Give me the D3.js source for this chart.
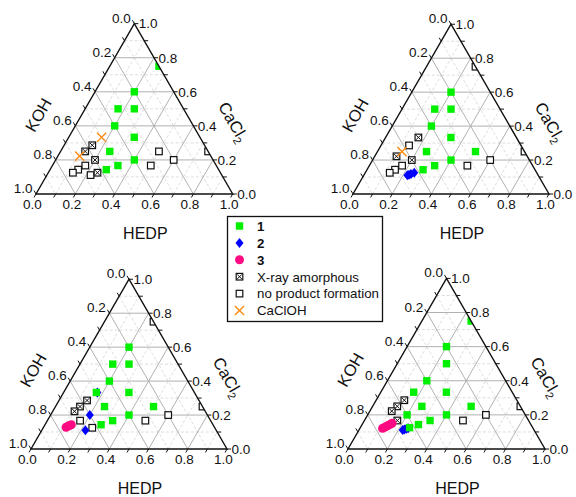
<!DOCTYPE html>
<html><head><meta charset="utf-8">
<script src="https://cdn.jsdelivr.net/npm/d3@7"></script>
<style>body{margin:0;background:#fff}svg{display:block}text{font-family:"Liberation Sans",Arial,sans-serif;fill:#111}</style>
</head><body>
<svg id="c" width="576" height="497"></svg>
<script>
// Each point: [HEDP, KOH, CaCl2] fractions
const axisTicks = [0, 0.2, 0.4, 0.6, 0.8, 1.0];
const tickLabels = ["0.0", "0.2", "0.4", "0.6", "0.8", "1.0"];
const legendLabels = ["1", "2", "3", "X-ray amorphous", "no product formation", "CaClOH"];

// Panel top-left
const tlGreen = [[0.25,0,0.75],[0.2,0.2,0.6],[0.167,0.333,0.5],[0.25,0.25,0.5],[0.2,0.4,0.4],[0.333,0.333,0.333],[0.25,0.5,0.25],[0.4,0.4,0.2],[0.333,0.5,0.167],[0.286,0.571,0.143]];
const tlBlue = [];
const tlPink = [];
const tlXray = [[0.143,0.571,0.286],[0.125,0.625,0.25],[0.2,0.6,0.2],[0.25,0.625,0.125]];
const tlOpen = [[0.5,0.25,0.25],[0.6,0.2,0.2],[0.5,0.333,0.167],[0.75,0,0.25],[0.167,0.667,0.167],[0.143,0.714,0.143],[0.125,0.75,0.125],[0.222,0.667,0.111]];
const tlCaclo = [[0.167,0.5,0.333],[0.111,0.667,0.222]];

// Panel top-right
const trGreen = [[0.2,0.2,0.6],[0.167,0.333,0.5],[0.25,0.25,0.5],[0.2,0.4,0.4],[0.333,0.333,0.333],[0.25,0.5,0.25],[0.5,0.25,0.25],[0.4,0.4,0.2],[0.333,0.5,0.167],[0.286,0.571,0.143]];
const trBlue = [[0.222,0.667,0.111],[0.229,0.657,0.114],[0.237,0.645,0.118],[0.25,0.625,0.125]];
const trPink = [];
const trXray = [[0.167,0.5,0.333],[0.111,0.667,0.222],[0.2,0.6,0.2]];
const trOpen = [[0.25,0,0.75],[0.75,0,0.25],[0.6,0.2,0.2],[0.5,0.333,0.167],[0.143,0.571,0.286],[0.167,0.667,0.167],[0.143,0.714,0.143],[0.125,0.75,0.125]];
const trCaclo = [[0.125,0.625,0.25]];

// Panel bottom-left
const blGreen = [[0.2,0.2,0.6],[0.167,0.333,0.5],[0.25,0.25,0.5],[0.2,0.4,0.4],[0.167,0.5,0.333],[0.333,0.333,0.333],[0.25,0.5,0.25],[0.5,0.25,0.25],[0.4,0.4,0.2],[0.333,0.5,0.167],[0.286,0.571,0.143]];
const blBlue = [[0.172,0.495,0.333],[0.2,0.6,0.2],[0.222,0.667,0.111]];
const blPink = [[0.115,0.757,0.128],[0.121,0.746,0.133],[0.127,0.735,0.138],[0.134,0.723,0.143]];
const blXray = [[0.143,0.571,0.286],[0.125,0.625,0.25],[0.111,0.667,0.222]];
const blOpen = [[0.25,0,0.75],[0.75,0,0.25],[0.6,0.2,0.2],[0.5,0.333,0.167],[0.167,0.667,0.167],[0.25,0.625,0.125]];
const blCaclo = [];

// Panel bottom-right
const brGreen = [[0.25,0,0.75],[0.2,0.2,0.6],[0.25,0.25,0.5],[0.2,0.4,0.4],[0.167,0.5,0.333],[0.333,0.333,0.333],[0.25,0.5,0.25],[0.5,0.25,0.25],[0.2,0.6,0.2],[0.4,0.4,0.2],[0.333,0.5,0.167],[0.286,0.571,0.143],[0.25,0.625,0.125]];
const brBlue = [[0.222,0.667,0.111],[0.229,0.657,0.114],[0.237,0.645,0.118],[0.244,0.634,0.122]];
const brPink = [[0.115,0.764,0.121],[0.124,0.748,0.128],[0.133,0.731,0.136],[0.142,0.714,0.144],[0.148,0.701,0.151]];
const brXray = [[0.143,0.571,0.286],[0.125,0.625,0.25],[0.111,0.667,0.222],[0.167,0.667,0.167]];
const brOpen = [[0.75,0,0.25],[0.6,0.2,0.2],[0.5,0.333,0.167]];
const brCaclo = [];

const panels = [
  {id:"tl", left:36, right:232.7, base:194, green:tlGreen, blue:tlBlue, pink:tlPink, xray:tlXray, open:tlOpen, caclo:tlCaclo, blueFirst:false},
  {id:"tr", left:353, right:549, base:194, green:trGreen, blue:trBlue, pink:trPink, xray:trXray, open:trOpen, caclo:trCaclo, blueFirst:false},
  {id:"bl", left:31, right:227, base:449, green:blGreen, blue:blBlue, pink:blPink, xray:blXray, open:blOpen, caclo:blCaclo, blueFirst:true},
  {id:"br", left:348, right:545, base:449, green:brGreen, blue:brBlue, pink:brPink, xray:brXray, open:brOpen, caclo:brCaclo, blueFirst:true}
];

const GREEN = "#00f000", BLUE = "#0000ff", PINK = "#ff0a82", ORANGE = "#ff8a10";
const svg = d3.select("#c");
const defs = svg.append("defs");

function drawMarker(g, type, x, y) {
  if (type === "green") {
    g.append("rect").attr("x", x-3.7).attr("y", y-3.7).attr("width", 7.4).attr("height", 7.4).attr("fill", GREEN);
  } else if (type === "blue") {
    const r = 5;
    g.append("path").attr("d", `M${x},${y-r}L${x+r*0.8},${y}L${x},${y+r}L${x-r*0.8},${y}Z`).attr("fill", BLUE);
  } else if (type === "pink") {
    g.append("circle").attr("cx", x).attr("cy", y).attr("r", 4.5).attr("fill", PINK);
  } else if (type === "open") {
    g.append("rect").attr("x", x-3.3).attr("y", y-3.3).attr("width", 6.6).attr("height", 6.6).attr("fill", "#fff").attr("stroke", "#111").attr("stroke-width", 1.2);
  } else if (type === "xray") {
    const s = 3.3;
    g.append("rect").attr("x", x-s).attr("y", y-s).attr("width", 2*s).attr("height", 2*s).attr("fill", "#fff").attr("stroke", "#111").attr("stroke-width", 1.2);
    g.append("path").attr("d", `M${x-s+1},${y-s+1}L${x+s-1},${y+s-1}M${x+s-1},${y-s+1}L${x-s+1},${y+s-1}`).attr("stroke", "#111").attr("stroke-width", 1);
  } else if (type === "caclo") {
    const s = 4.6;
    g.append("path").attr("d", `M${x-s},${y-s}L${x+s},${y+s}M${x+s},${y-s}L${x-s},${y+s}`).attr("stroke", ORANGE).attr("stroke-width", 1.4).attr("fill", "none");
  }
}

panels.forEach(p => {
  const W = p.right - p.left, H = W * Math.sqrt(3) / 2;
  const xs = d3.scaleLinear().domain([0, 1]).range([p.left, p.right]);
  const ys = d3.scaleLinear().domain([0, 1]).range([p.base, p.base - H]);
  // ternary -> pixel: a = HEDP, c = CaCl2
  const P = (a, c) => [xs(a + c / 2), ys(c)];
  const g = svg.append("g");

  // grid
  const gridVals = d3.range(1, 10).map(i => i / 10);
  const line = d3.line();
  gridVals.forEach(v => {
    const major = Math.round(v * 10) % 2 === 0;
    const segs = [
      [P(0, v), P(1 - v, v)],          // const CaCl2
      [P(v, 0), P(v, 1 - v)],          // const HEDP
      [P(0, 1 - v), P(1 - v, 0)]       // const KOH
    ];
    segs.forEach(s => {
      g.append("path").attr("d", line(s)).attr("fill", "none")
        .attr("stroke", major ? "#a8a8a8" : "#d4d4d4")
        .attr("stroke-width", major ? 0.9 : 0.8)
        .attr("stroke-dasharray", major ? null : "3,2");
    });
  });

  // markers clipped to triangle
  const cid = "clip-" + p.id;
  defs.append("clipPath").attr("id", cid).append("path")
    .attr("d", line([P(0, 0), P(1, 0), P(0, 1)]) + "Z");
  const mg = g.append("g").attr("clip-path", `url(#${cid})`);
  const order = p.blueFirst ? ["open", "xray", "caclo", "blue", "green", "pink"] : ["open", "xray", "caclo", "green", "blue", "pink"];
  order.forEach(t => {
    p[t].forEach(d => { const [x, y] = P(d[0], d[2]); drawMarker(mg, t, x, y); });
  });

  // triangle outline
  g.append("path").attr("d", line([P(0, 0), P(1, 0), P(0, 1)]) + "Z")
    .attr("fill", "none").attr("stroke", "#111").attr("stroke-width", 1.4).attr("stroke-linejoin", "miter");

  // ticks
  const L = 4;
  const tickVals = d3.range(0, 11).map(i => i / 10);
  tickVals.forEach(v => {
    let [bx, by] = P(v, 0);
    g.append("line").attr("x1", bx).attr("y1", by).attr("x2", bx - 0.5 * L).attr("y2", by + 0.866 * L).attr("stroke", "#111").attr("stroke-width", 1);
    let [lx, ly] = P(0, 1 - v);
    g.append("line").attr("x1", lx).attr("y1", ly).attr("x2", lx - 0.5 * L).attr("y2", ly - 0.866 * L).attr("stroke", "#111").attr("stroke-width", 1);
    let [rx, ry] = P(1 - v, v);
    g.append("line").attr("x1", rx).attr("y1", ry).attr("x2", rx + L).attr("y2", ry).attr("stroke", "#111").attr("stroke-width", 1);
  });

  // tick labels
  const fs = 13.5;
  axisTicks.forEach((v, i) => {
    const lab = tickLabels[i];
    let [bx, by] = P(v, 0);
    g.append("text").attr("x", bx - 3.5).attr("y", by + 15).attr("text-anchor", "middle").attr("font-size", fs).text(lab);
    let [lx, ly] = P(0, 1 - v);
    g.append("text").attr("x", lx - 3.5).attr("y", ly - 1).attr("text-anchor", "end").attr("font-size", fs).text(lab);
    let [rx, ry] = P(1 - v, v);
    g.append("text").attr("x", rx + 4.5).attr("y", ry + 4.8).attr("text-anchor", "start").attr("font-size", fs).text(lab);
  });

  // axis titles
  const [t0x, t0y] = P(0, 0), [t1x, t1y] = P(1, 0), [tax, tay] = P(0, 1);
  const lmx = (t0x + tax) / 2 - 47, lmy = (t0y + tay) / 2 + 6;
  g.append("text").attr("transform", `translate(${lmx},${lmy}) rotate(-60)`).attr("text-anchor", "middle")
    .attr("dy", "0.36em").attr("font-size", 16.5).text("KOH");
  const rmx = (t1x + tax) / 2 + 50, rmy = (t1y + tay) / 2 + 13;
  const ct = g.append("text").attr("transform", `translate(${rmx},${rmy}) rotate(60)`).attr("text-anchor", "middle")
    .attr("dy", "0.36em").attr("font-size", 16.5);
  ct.append("tspan").text("CaCl");
  ct.append("tspan").attr("font-size", 11).attr("dy", 4).text("2");
  g.append("text").attr("x", (t0x + t1x) / 2 + 11).attr("y", p.base + 44.5).attr("text-anchor", "middle")
    .attr("font-size", 16).text("HEDP");
});

// legend
const lg = svg.append("g");
lg.append("rect").attr("x", 227.5).attr("y", 216.5).attr("width", 155).attr("height", 105)
  .attr("fill", "#fff").attr("stroke", "#111").attr("stroke-width", 1.3);
const legendTypes = ["green", "blue", "pink", "xray", "open", "caclo"];
const ly = d3.scaleLinear().domain([0, 5]).range([226, 310.5]);
legendTypes.forEach((t, i) => {
  drawMarker(lg, t, 239.5, ly(i));
  lg.append("text").attr("x", 257).attr("y", ly(i) + 4.8).attr("font-size", 13.3)
    .attr("font-weight", i < 3 ? "bold" : "normal").text(legendLabels[i]);
});
</script>
</body></html>
